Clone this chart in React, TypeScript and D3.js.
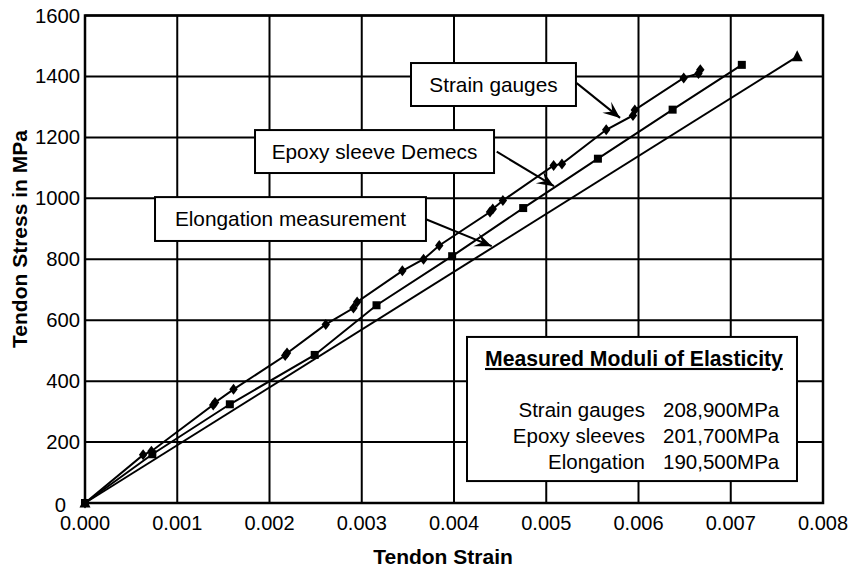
import React from "react";
import * as d3 from "d3";

// ---- data ----
const gaugeStrain = [0, 0.00063, 0.00072, 0.00139, 0.00141, 0.00161, 0.00217, 0.00219, 0.00261, 0.00291, 0.00295, 0.00344, 0.00367, 0.00384, 0.00439, 0.00442, 0.00453, 0.00508, 0.00517, 0.00565, 0.00594, 0.00596, 0.00649, 0.00665, 0.00667];
const gaugeStress = [0, 158, 170, 322, 330, 373, 484, 492, 586, 640, 660, 762, 800, 845, 955, 965, 993, 1108, 1113, 1225, 1272, 1290, 1395, 1410, 1422];

const epoxyStrain = [0, 0.00073, 0.00157, 0.00249, 0.00316, 0.00398, 0.00475, 0.00556, 0.00637, 0.00712];
const epoxyStress = [0, 160, 324, 486, 649, 810, 968, 1130, 1291, 1438];

const elongStrain = [0, 0.00772];
const elongStress = [0, 1465];

const xTicks = [0, 0.001, 0.002, 0.003, 0.004, 0.005, 0.006, 0.007, 0.008];
const yTicks = [0, 200, 400, 600, 800, 1000, 1200, 1400, 1600];

const moduliLabels = ["Strain gauges", "Epoxy sleeves", "Elongation"];
const moduliValues = ["208,900MPa", "201,700MPa", "190,500MPa"];

// annotation callouts: box [x0,x1,yTop,yBottom] and arrow [x0,y0,x1,y1] in data units
const callouts = [
  { text: "Strain gauges", box: [0.003534, 0.005322, 1444, 1303], arrow: [0.00533, 1378, 0.0058, 1264] },
  { text: "Epoxy sleeve Demecs", box: [0.001843, 0.004434, 1224, 1083], arrow: [0.004463, 1153, 0.005084, 1040] },
  { text: "Elongation measurement", box: [0.000759, 0.003696, 1004, 860], arrow: [0.003689, 932, 0.004409, 843] },
];
const moduliBox = [0.004141, 0.007718, 545, 72];

const W = 853;
const H = 570;
const FONT = "Liberation Sans, Arial, Helvetica, sans-serif";

export default function App() {
  const x = d3.scaleLinear().domain([0, 0.008]).range([85, 823]);
  const y = d3.scaleLinear().domain([0, 1600]).range([503, 15.5]);

  const line = d3
    .line<[number, number]>()
    .x((d) => x(d[0]))
    .y((d) => y(d[1]));

  const gauge = gaugeStrain.map((s, i) => [s, gaugeStress[i]] as [number, number]);
  const epoxy = epoxyStrain.map((s, i) => [s, epoxyStress[i]] as [number, number]);
  const elong = elongStrain.map((s, i) => [s, elongStress[i]] as [number, number]);

  const diamond = (cx: number, cy: number) =>
    `M${cx},${cy - 5.5}L${cx + 4.2},${cy}L${cx},${cy + 5.5}L${cx - 4.2},${cy}Z`;
  const tri = (cx: number, cy: number) =>
    `M${cx},${cy - 6.5}L${cx + 5.5},${cy + 4.5}L${cx - 5.5},${cy + 4.5}Z`;

  const arrowHead = (x0: number, y0: number, x1: number, y1: number) => {
    const ang = Math.atan2(y1 - y0, x1 - x0);
    const L = 17;
    const wHalf = 7;
    const notch = 10;
    const bx = x1 - L * Math.cos(ang);
    const by = y1 - L * Math.sin(ang);
    const nx = x1 - notch * Math.cos(ang);
    const ny = y1 - notch * Math.sin(ang);
    const px = -Math.sin(ang);
    const py = Math.cos(ang);
    return `M${x1},${y1}L${bx + px * wHalf},${by + py * wHalf}L${nx},${ny}L${bx - px * wHalf},${by - py * wHalf}Z`;
  };

  const mb = {
    x0: x(moduliBox[0]),
    x1: x(moduliBox[1]),
    y0: y(moduliBox[2]),
    y1: y(moduliBox[3]),
  };

  return (
    <div style={{ position: "fixed", left: 0, top: 0, width: W, height: H, background: "#fff" }}>
      <svg width={W} height={H} style={{ display: "block", fontFamily: FONT }}>
        <rect x={0} y={0} width={W} height={H} fill="#fff" />
        {/* grid */}
        {xTicks.map((t) => (
          <line key={"gx" + t} x1={x(t)} x2={x(t)} y1={y(0)} y2={y(1600)} stroke="#000" strokeWidth={2} />
        ))}
        {yTicks.map((t) => (
          <line key={"gy" + t} x1={x(0)} x2={x(0.008)} y1={y(t)} y2={y(t)} stroke="#000" strokeWidth={2} />
        ))}
        <rect x={x(0)} y={y(1600)} width={x(0.008) - x(0)} height={y(0) - y(1600)} fill="none" stroke="#000" strokeWidth={2.5} />

        {/* tick labels */}
        {xTicks.map((t) => (
          <text key={"tx" + t} x={x(t)} y={y(0) + 27} textAnchor="middle" fontSize={20} fill="#000">
            {d3.format(".3f")(t)}
          </text>
        ))}
        {yTicks.map((t) => (
          <text
            key={"ty" + t}
            x={t === 0 ? x(0) - 19 : x(0) - 5}
            y={t === 0 ? y(t) + 9 : y(t) + 7}
            textAnchor="end"
            fontSize={20.3}
            fill="#000"
          >
            {t}
          </text>
        ))}

        {/* axis titles */}
        <text x={443} y={564} textAnchor="middle" fontSize={21} fontWeight="bold" fill="#000">
          Tendon Strain
        </text>
        <text
          transform={`translate(27,239) rotate(-90)`}
          textAnchor="middle"
          fontSize={21}
          fontWeight="bold"
          fill="#000"
        >
          Tendon Stress in MPa
        </text>

        {/* series lines */}
        <path d={line(elong) || ""} fill="none" stroke="#000" strokeWidth={2} />
        <path d={line(epoxy) || ""} fill="none" stroke="#000" strokeWidth={2} />
        <path d={line(gauge) || ""} fill="none" stroke="#000" strokeWidth={2} />

        {/* markers */}
        {elong.map((d, i) => (
          <path key={"t" + i} d={tri(x(d[0]), y(d[1]))} fill="#000" />
        ))}
        {epoxy.map((d, i) => (
          <rect key={"s" + i} x={x(d[0]) - 4} y={y(d[1]) - 4} width={8} height={8} fill="#000" />
        ))}
        {gauge.map((d, i) => (
          <path key={"d" + i} d={diamond(x(d[0]), y(d[1]))} fill="#000" />
        ))}

        {/* callouts */}
        {callouts.map((c) => {
          const bx0 = x(c.box[0]);
          const bx1 = x(c.box[1]);
          const by0 = y(c.box[2]);
          const by1 = y(c.box[3]);
          const ax0 = x(c.arrow[0]);
          const ay0 = y(c.arrow[1]);
          const ax1 = x(c.arrow[2]);
          const ay1 = y(c.arrow[3]);
          return (
            <g key={c.text}>
              <rect x={bx0} y={by0} width={bx1 - bx0} height={by1 - by0} fill="#fff" stroke="#000" strokeWidth={2} />
              <text x={(bx0 + bx1) / 2} y={(by0 + by1) / 2 + 7} textAnchor="middle" fontSize={20.8} fill="#000">
                {c.text}
              </text>
              <line x1={ax0} y1={ay0} x2={ax1} y2={ay1} stroke="#000" strokeWidth={2} />
              <path d={arrowHead(ax0, ay0, ax1, ay1)} fill="#000" />
            </g>
          );
        })}

        {/* moduli box */}
        <rect x={mb.x0} y={mb.y0} width={mb.x1 - mb.x0} height={mb.y1 - mb.y0} fill="#fff" stroke="#000" strokeWidth={2} />
        <text x={mb.x0 + 18} y={mb.y0 + 29} fontSize={21.2} fontWeight="bold" fill="#000" textDecoration="underline">
          Measured Moduli of Elasticity
        </text>
        {moduliLabels.map((l, i) => (
          <g key={l}>
            <text x={mb.x0 + 178} y={mb.y0 + 80 + i * 26} textAnchor="end" fontSize={20.5} fill="#000">
              {l}
            </text>
            <text x={mb.x0 + 196} y={mb.y0 + 80 + i * 26} fontSize={20.5} fill="#000">
              {moduliValues[i]}
            </text>
          </g>
        ))}
      </svg>
    </div>
  );
}
